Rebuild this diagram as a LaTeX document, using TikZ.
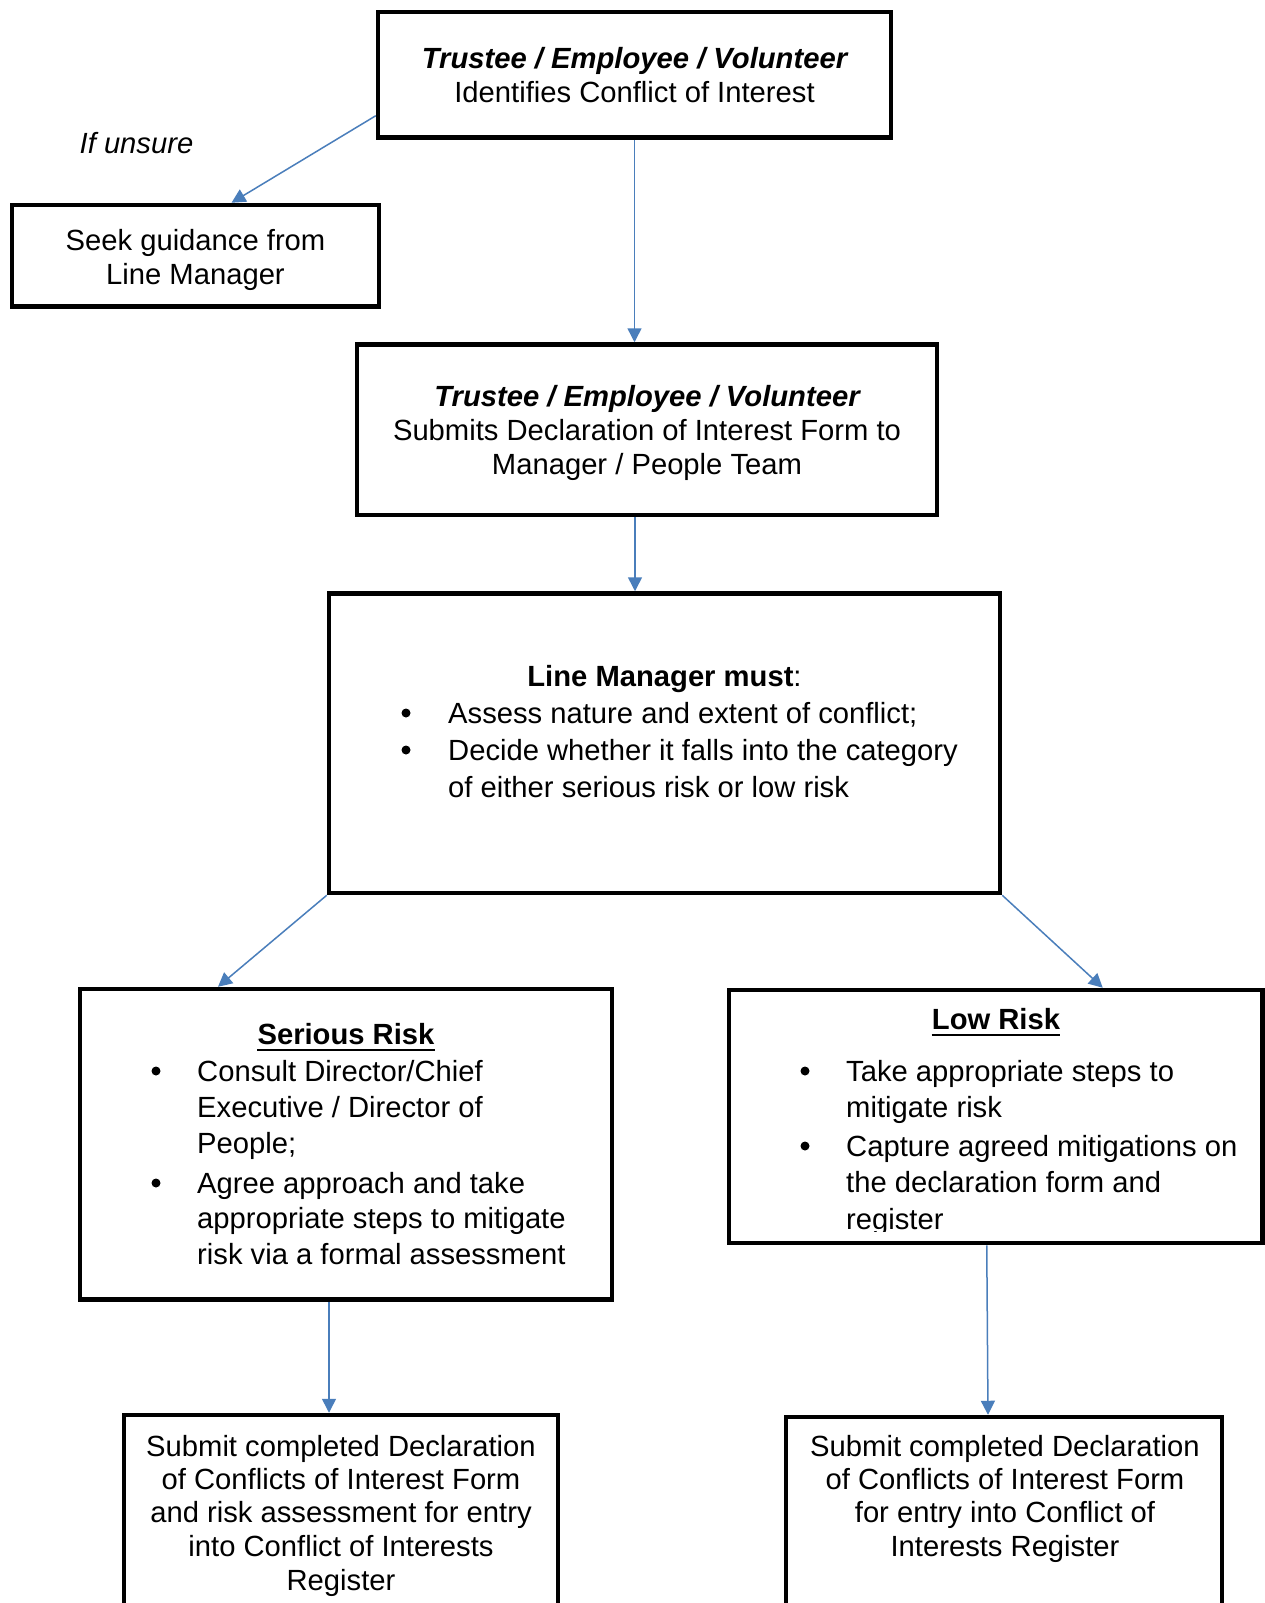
\documentclass[tikz,border=0pt]{standalone}
\usepackage{fontspec}
\setmainfont{Liberation Sans}
\usetikzlibrary{arrows.meta,fit}
\definecolor{arrowblue}{HTML}{4A7EBB}
\begin{document}
\begin{tikzpicture}[x=1pt,y=-1pt,
  box/.style={draw=black,line width=4.5pt,inner sep=0pt,rectangle},
  arr/.style={draw=arrowblue,line width=1.5pt,-{Triangle[width=14pt,length=14pt,fill=arrowblue]}},
  txt/.style={anchor=base,inner sep=0pt,font=\fontsize{29.2pt}{33.7pt}\selectfont},
  ltxt/.style={txt,anchor=base west},
  bul/.style={circle,fill=black,inner sep=0pt,minimum size=9pt},
  uline/.style={line width=2.3pt}]
\path[use as bounding box] (0,0) rectangle (1265,1603);
\clip (0,0) rectangle (1265,1603);
\fill[white] (0,0) rectangle (1265,1603);

% boxes
\node[box, fit={(378,12) (891,137.5)}] (b1) {};
\node[box, fit={(12,205) (379,306.5)}] (seek) {};
\node[box, fit={(357,344.5) (937,515)}] (b2) {};
\node[box, fit={(329,593.5) (1000,893)}] (b3) {};
\node[box, fit={(80,989) (612,1299.5)}] (b4) {};
\node[box, fit={(729,990) (1262.5,1243)}] (b5) {};
\node[box, fit={(124,1415) (558,1650)}] (b6) {};
\node[box, fit={(786,1417) (1222,1650)}] (b7) {};

% texts
\node[txt] (t1a) at (634.5,68) {\bfseries\itshape Trustee / Employee / Volunteer};
\node[txt] (t1b) at (634.5,102) {Identifies Conflict of Interest};
\node[txt] (unsure) at (136.5,153) {\itshape If unsure};
\node[txt] (sa) at (195.5,250) {Seek guidance from};
\node[txt] (sb) at (195.5,284) {Line Manager};
\node[txt] (t2a) at (647,406) {\bfseries\itshape Trustee / Employee / Volunteer};
\node[txt] (t2b) at (647,440) {Submits Declaration of Interest Form to};
\node[txt] (t2c) at (647,474) {Manager / People Team};

\node[txt] (t3h) at (664.5,686) {{\bfseries Line Manager must}:};
\node[bul] (b3d1) at (406,713) {};
\node[ltxt] (t3a) at (448,723) {Assess nature and extent of conflict;};
\node[bul] (b3d2) at (406,750) {};
\node[ltxt] (t3b) at (448,760) {Decide whether it falls into the category};
\node[ltxt] (t3c) at (448,797) {of either serious risk or low risk};

\node[txt] (srh) at (346,1044) {\bfseries Serious Risk};
\draw[uline] ([yshift=-6pt]srh.base west) -- ([yshift=-6pt]srh.base east);
\node[bul] (b4d1) at (156,1071) {};
\node[ltxt] (t4a) at (197,1081) {Consult Director/Chief};
\node[ltxt] (t4b) at (197,1117) {Executive / Director of};
\node[ltxt] (t4c) at (197,1153) {People;};
\node[bul] (b4d2) at (156,1183) {};
\node[ltxt] (t4d) at (197,1193) {Agree approach and take};
\node[ltxt] (t4e) at (197,1228) {appropriate steps to mitigate};
\node[ltxt] (t4f) at (197,1264) {risk via a formal assessment};

\node[txt] (lrh) at (996,1029) {\bfseries Low Risk};
\draw[uline] ([yshift=-6pt]lrh.base west) -- ([yshift=-6pt]lrh.base east);
\node[bul] (b5d1) at (805,1071) {};
\node[ltxt] (t5a) at (846,1081) {Take appropriate steps to};
\node[ltxt] (t5b) at (846,1117) {mitigate risk};
\node[bul] (b5d2) at (805,1146) {};
\node[ltxt] (t5c) at (846,1156) {Capture agreed mitigations on};
\node[ltxt] (t5d) at (846,1192) {the declaration form and};
\begin{scope}
\clip (732,1100) rectangle (1260,1231);
\node[ltxt] (t5e) at (846,1229) {register};
\end{scope}

\node[txt] (t6a) at (341,1456) {Submit completed Declaration};
\node[txt] (t6b) at (341,1489) {of Conflicts of Interest Form};
\node[txt] (t6c) at (341,1522) {and risk assessment for entry};
\node[txt] (t6d) at (341,1556) {into Conflict of Interests};
\node[txt] (t6e) at (341,1590) {Register};

\node[txt] (t7a) at (1005,1456) {Submit completed Declaration};
\node[txt] (t7b) at (1005,1489) {of Conflicts of Interest Form};
\node[txt] (t7c) at (1005,1522) {for entry into Conflict of};
\node[txt] (t7d) at (1005,1556) {Interests Register};

% connectors
\draw[arr] ([yshift=-41pt]b1.west) -- ([xshift=36pt]seek.north);
\draw[arr] (b1.south) -- (b1.south |- b2.north);
\draw[arr] ([xshift=-12pt]b2.south) -- ([xshift=-12pt]b2.south |- b3.north);
\draw[arr] (b3.south west) -- ([xshift=-128pt]b4.north);
\draw[arr] (b3.south east) -- ([xshift=107pt]b5.north);
\draw[arr] ([xshift=-17pt]b4.south) -- ([xshift=-17pt]b4.south |- b6.north);
\draw[arr] ([xshift=-9pt]b5.south) -- ([xshift=-16pt]b7.north);
\end{tikzpicture}
\end{document}
